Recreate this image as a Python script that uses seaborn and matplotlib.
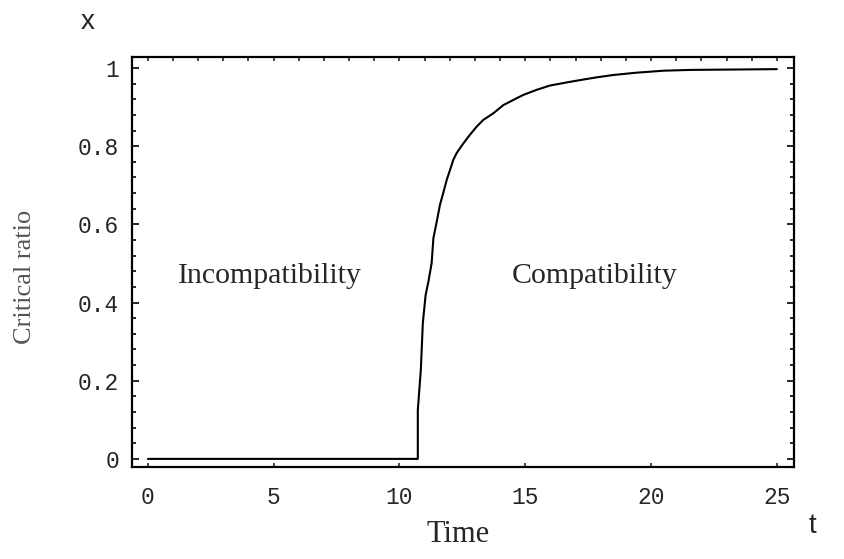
import pandas as pd
import matplotlib.pyplot as plt
import matplotlib.ticker as mticker
import seaborn as sns

# curve: critical ratio x against time t
t_values = [0, 10.73, 10.73, 10.85, 10.93, 11.04, 11.15, 11.28, 11.35, 11.48, 11.61,
            11.74, 11.88, 12.01, 12.14, 12.28, 12.54, 12.80, 13.07, 13.33, 13.73,
            14.13, 14.52, 14.92, 15.45, 15.98, 16.65, 17.18, 17.84, 18.50, 19.43,
            20.5, 21.55, 25.0]
x_values = [0, 0, 0.125, 0.228, 0.348, 0.419, 0.453, 0.501, 0.565, 0.606, 0.650,
            0.680, 0.714, 0.739, 0.765, 0.783, 0.807, 0.829, 0.850, 0.867, 0.884,
            0.905, 0.918, 0.931, 0.944, 0.955, 0.963, 0.969, 0.976, 0.982, 0.988,
            0.993, 0.995, 0.997]
x_ticks = [0, 5, 10, 15, 20, 25]
y_ticks = [0, 0.2, 0.4, 0.6, 0.8, 1]
y_tick_labels = ['0', '0.2', '0.4', '0.6', '0.8', '1']

df = pd.DataFrame({'t': t_values, 'x': x_values})

sns.set_style("ticks")
plt.rcParams['font.family'] = ['Liberation Serif', 'DejaVu Serif']

fig = plt.figure(figsize=(8.45, 5.59), dpi=100)
ax = fig.add_axes([0.1559, 0.1651, 0.7837, 0.7329])

sns.lineplot(ax=ax, data=df, x='t', y='x', estimator=None, sort=False,
             color='black', linewidth=1.5)

ax.set_xlim(-0.64, 25.68)
ax.set_ylim(-0.02, 1.028)
ax.set_xlabel('')
ax.set_ylabel('')

# ticks in Mathematica frame style
ax.set_xticks(x_ticks)
ax.set_xticklabels([str(v) for v in x_ticks])
ax.set_yticks(y_ticks)
ax.set_yticklabels(y_tick_labels)
ax.yaxis.set_minor_locator(mticker.MultipleLocator(0.04))
ax.tick_params(axis='y', which='both', direction='in', left=True, right=True,
               color='black')
ax.tick_params(axis='y', which='major', length=5, width=1.2, pad=9)
ax.tick_params(axis='y', which='minor', length=3, width=1.2)
ax.tick_params(axis='x', which='major', direction='in', length=3, width=1.2,
               pad=14, bottom=True, top=False)
for lab in ax.get_xticklabels() + ax.get_yticklabels():
    lab.set_family(['Liberation Mono', 'DejaVu Sans Mono'])
    lab.set_fontsize(16.5)

top = ax.secondary_xaxis('top')
top.set_xticks(range(0, 26))
top.tick_params(direction='in', length=3, width=1.2, labeltop=False)
top.spines['top'].set_visible(False)

for s in ax.spines.values():
    s.set_visible(True)
    s.set_color('black')
    s.set_linewidth(1.6)

ax.text(4.86, 0.468, 'Incompatibility', ha='center', va='center', fontsize=21.5)
ax.text(17.77, 0.468, 'Compatibility', ha='center', va='center', fontsize=21.5)

fig.text(458 / 845, 1 - 535 / 559, 'Time', ha='center', va='center', fontsize=22)
fig.text(25 / 845, 1 - 277 / 559, 'Critical ratio', ha='center', va='center',
         rotation=90, fontsize=19, color='#555555')
fig.text(88 / 845, 1 - 22 / 559, 'x', ha='center', va='center', fontsize=20,
         family=['Liberation Sans', 'DejaVu Sans'])
fig.text(812 / 845, 1 - 526 / 559, 't', ha='center', va='center', fontsize=20,
         family=['Liberation Sans', 'DejaVu Sans'])

fig.savefig('out.png', dpi=100)
